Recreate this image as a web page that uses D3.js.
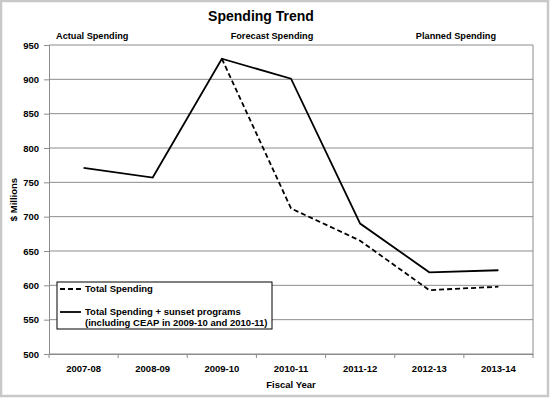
<!DOCTYPE html>
<meta charset="utf-8">
<script src="https://d3js.org/d3.v7.min.js"></script>
<style>
  body { margin: 0; background: #fff; }
  text { font-family: Arial, "Liberation Sans", sans-serif; font-weight: bold; fill: #000; }
</style>
<body>
<div id="chart"></div>
<script>
// data
var years = ["2007-08", "2008-09", "2009-10", "2010-11", "2011-12", "2012-13", "2013-14"];
var totalSpending = [null, null, 930, 712, 665, 593, 598];
var totalPlusSunset = [771, 757, 930, 901, 690, 619, 622];
var yTicks = [500, 550, 600, 650, 700, 750, 800, 850, 900, 950];
var periodLabels = ["Actual Spending", "Forecast Spending", "Planned Spending"];

var W = 550, H = 398;
var margin = { top: 45, right: 17, bottom: 44, left: 49 },
  width = W - margin.left - margin.right,
  height = H - margin.top - margin.bottom;
var fs = "9.5px";

var root = d3.select("#chart").append("svg")
  .attr("width", W)
  .attr("height", H);

// outer frame
root.append("rect")
  .attr("x", 1).attr("y", 1)
  .attr("width", W - 3).attr("height", H - 3)
  .attr("fill", "#fff")
  .attr("stroke", "#c8c8c8")
  .attr("stroke-width", 2.5);

var svg = root.append("g")
  .attr("transform", "translate(" + margin.left + "," + margin.top + ")");

var x = d3.scaleBand().domain(years).range([0, width]);
var y = d3.scaleLinear().domain([500, 950]).range([height, 0]);

// gridlines
svg.selectAll(".grid")
  .data(yTicks)
  .enter()
  .append("line")
  .attr("x1", 0).attr("x2", width)
  .attr("y1", function(d) { return y(d); })
  .attr("y2", function(d) { return y(d); })
  .attr("stroke", "#8c8c8c")
  .attr("stroke-width", 1);

// right border of plot
svg.append("line")
  .attr("x1", width).attr("x2", width)
  .attr("y1", 0).attr("y2", height)
  .attr("stroke", "#8c8c8c");

// Y axis
var yAxis = svg.append("g")
  .call(d3.axisLeft(y).tickValues(yTicks).tickSize(5).tickPadding(5));
yAxis.select(".domain").attr("stroke", "#8c8c8c");
yAxis.selectAll(".tick line").attr("stroke", "#8c8c8c");
yAxis.selectAll("text").style("font-size", fs).style("font-family", "Arial, 'Liberation Sans', sans-serif").style("font-weight", "bold");

// X axis
var xAxis = svg.append("g")
  .attr("transform", "translate(0," + height + ")")
  .call(d3.axisBottom(x).tickSize(0).tickPadding(11));
xAxis.select(".domain").attr("stroke", "#8c8c8c");
xAxis.selectAll("text").style("font-size", fs).style("font-family", "Arial, 'Liberation Sans', sans-serif").style("font-weight", "bold");

// x tick marks at band boundaries
svg.selectAll(".xtick")
  .data(years.concat(["end"]))
  .enter()
  .append("line")
  .attr("x1", function(d, i) { return i * x.bandwidth(); })
  .attr("x2", function(d, i) { return i * x.bandwidth(); })
  .attr("y1", height).attr("y2", height + 4)
  .attr("stroke", "#8c8c8c");

// lines
var line = d3.line()
  .defined(function(d) { return d != null; })
  .x(function(d, i) { return x(years[i]) + x.bandwidth() / 2; })
  .y(function(d) { return y(d); });

svg.append("path")
  .datum(totalSpending)
  .attr("fill", "none")
  .attr("stroke", "#000")
  .attr("stroke-width", 1.8)
  .attr("stroke-dasharray", "5,3")
  .attr("d", line);

svg.append("path")
  .datum(totalPlusSunset)
  .attr("fill", "none")
  .attr("stroke", "#000")
  .attr("stroke-width", 1.8)
  .attr("d", line);

// title and labels
root.append("text")
  .attr("x", 261).attr("y", 21)
  .attr("text-anchor", "middle")
  .style("font-size", "14px")
  .text("Spending Trend");

root.append("text").attr("x", 56).attr("y", 39).style("font-size", "9.2px").text(periodLabels[0]);
root.append("text").attr("x", 272).attr("y", 39).attr("text-anchor", "middle").style("font-size", "9.2px").text(periodLabels[1]);
root.append("text").attr("x", 496).attr("y", 39).attr("text-anchor", "end").style("font-size", "9.2px").text(periodLabels[2]);

root.append("text")
  .attr("x", margin.left + width / 2).attr("y", 388)
  .attr("text-anchor", "middle")
  .style("font-size", fs)
  .text("Fiscal Year");

root.append("text")
  .attr("transform", "translate(17," + (margin.top + height / 2) + ") rotate(-90)")
  .attr("text-anchor", "middle")
  .style("font-size", fs)
  .text("$ Millions");

// legend
var lg = root.append("g").attr("transform", "translate(57,282)");
lg.append("rect")
  .attr("width", 215).attr("height", 47)
  .attr("fill", "#fff")
  .attr("stroke", "#000")
  .attr("stroke-width", 1);
lg.append("line").attr("x1", 3).attr("x2", 24).attr("y1", 7).attr("y2", 7)
  .attr("stroke", "#000").attr("stroke-width", 1.8).attr("stroke-dasharray", "5,3");
lg.append("text").attr("x", 28).attr("y", 10).style("font-size", fs).text("Total Spending");
lg.append("line").attr("x1", 3).attr("x2", 24).attr("y1", 30).attr("y2", 30)
  .attr("stroke", "#000").attr("stroke-width", 1.8);
lg.append("text").attr("x", 28).attr("y", 33).style("font-size", fs).text("Total Spending + sunset programs");
lg.append("text").attr("x", 28).attr("y", 44).style("font-size", fs).text("(including CEAP in 2009-10 and 2010-11)");
</script>
</body>
